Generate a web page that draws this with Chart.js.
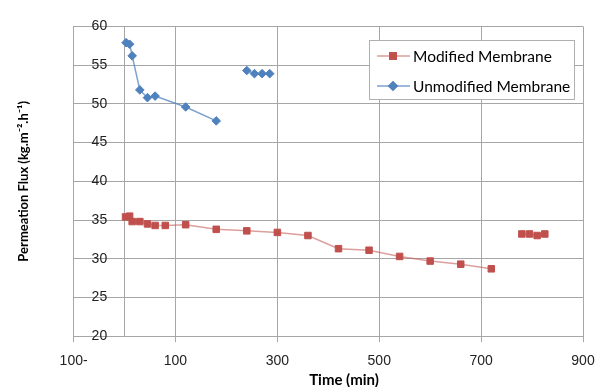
<!DOCTYPE html>
<html>
<head>
<meta charset="utf-8">
<script src="https://cdn.jsdelivr.net/npm/chart.js@4.4.1/dist/chart.umd.min.js"></script>
<style>
  html, body { margin: 0; padding: 0; background: #fff; }
  #wrap { width: 596px; height: 387px; }
</style>
</head>
<body>
<div id="wrap"><canvas id="chart" width="596" height="387"></canvas></div>
<script>
// time in minutes, flux in kg/m2/h -- null marks a break in the line
const modifiedTime = [2, 10, 15, 30, 45, 60, 80, 120, 180, 240, 300, 360, 420, 480, 540, 600, 660, 720, null, 780, 795, 810, 825];
const modifiedFlux = [35.4, 35.5, 34.8, 34.8, 34.5, 34.3, 34.3, 34.4, 33.8, 33.6, 33.4, 33.0, 31.3, 31.1, 30.3, 29.7, 29.3, 28.7, null, 33.2, 33.2, 33.0, 33.2];

const unmodifiedTime = [3, 10, 15, 30, 45, 60, 120, 180, null, 240, 255, 270, 285];
const unmodifiedFlux = [57.9, 57.7, 56.2, 51.8, 50.8, 51.0, 49.6, 47.8, null, 54.3, 53.9, 53.9, 53.9];

const xTicks = [-100, 0, 100, 300, 500, 700, 900];
const xTickLabels = ['100-', '', '100', '300', '500', '700', '900'];

const gridColor = '#a6a6a6';
const red = '#c0504d';
const blue = '#4f81bd';

function toPoints(xs, ys) {
    return xs.map((x, i) => ({ x: x, y: ys[i] }));
}

// legend box inside the plot + x title (excel puts it a bit right of centre)
const extras = {
    id: 'extras',
    afterDraw(chart) {
        const ctx = chart.ctx;
        ctx.save();
        ctx.fillStyle = '#fff';
        ctx.strokeStyle = '#b0b0b0';
        ctx.lineWidth = 1;
        ctx.fillRect(369, 40, 205, 59);
        ctx.strokeRect(369.5, 40.5, 205, 59);

        const rows = [56, 86];
        chart.data.datasets.forEach((ds, i) => {
            const y = rows[i];
            ctx.strokeStyle = ds.borderColor;
            ctx.lineWidth = 1.5;
            ctx.beginPath();
            ctx.moveTo(377, y);
            ctx.lineTo(410, y);
            ctx.stroke();
            ctx.fillStyle = ds.pointBackgroundColor;
            ctx.strokeStyle = ds.pointBorderColor;
            Chart.helpers.drawPoint(ctx, { pointStyle: ds.pointStyle, radius: ds.pointRadius, borderWidth: 1 }, 393, y);
            ctx.fillStyle = '#000';
            ctx.font = '15.5px Lato';
            ctx.textBaseline = 'middle';
            ctx.textAlign = 'left';
            ctx.fillText(ds.label, 413, y + 1);
        });

        ctx.font = 'bold 15px Lato';
        ctx.fillStyle = '#000';
        ctx.textAlign = 'center';
        ctx.textBaseline = 'middle';
        ctx.fillText('Time (min)', 344, 380);
        ctx.restore();
    }
};

new Chart(document.getElementById('chart'), {
    type: 'line',
    data: {
        datasets: [
            {
                label: 'Modified Membrane',
                data: toPoints(modifiedTime, modifiedFlux),
                borderColor: 'rgba(192,80,77,0.55)',
                borderWidth: 1.5,
                pointStyle: 'rect',
                pointRadius: 4.6,
                pointBackgroundColor: red,
                pointBorderColor: red,
                pointBorderWidth: 1,
                tension: 0
            },
            {
                label: 'Unmodified Membrane',
                data: toPoints(unmodifiedTime, unmodifiedFlux),
                borderColor: 'rgba(79,129,189,0.75)',
                borderWidth: 1.5,
                pointStyle: 'rectRot',
                pointRadius: 4.3,
                pointBackgroundColor: blue,
                pointBorderColor: blue,
                pointBorderWidth: 1,
                tension: 0
            }
        ]
    },
    options: {
        responsive: false,
        animation: false,
        layout: { padding: { top: 24, right: 13, bottom: 6, left: 0 } },
        plugins: {
            legend: { display: false },
            tooltip: { enabled: false }
        },
        scales: {
            x: {
                type: 'linear',
                min: -100,
                max: 900,
                afterBuildTicks: axis => { axis.ticks = xTicks.map(v => ({ value: v })); },
                afterFit: axis => { axis.paddingLeft = 0; axis.paddingRight = 0; },
                ticks: {
                    autoSkip: false,
                    maxRotation: 0,
                    padding: 11,
                    color: '#222',
                    font: { family: 'Liberation Sans', size: 14 },
                    callback: v => xTickLabels[xTicks.indexOf(v)]
                },
                grid: {
                    color: gridColor,
                    tickLength: 6,
                    tickColor: c => (c.tick && c.tick.value === 0) ? 'rgba(0,0,0,0)' : gridColor
                },
                border: { color: gridColor }
            },
            y: {
                min: 20,
                max: 60,
                ticks: {
                    stepSize: 5,
                    mirror: true,
                    padding: 18,
                    color: '#222',
                    font: { family: 'Liberation Sans', size: 14 }
                },
                grid: { color: gridColor, drawTicks: false },
                border: { color: gridColor },
                title: {
                    display: true,
                    text: 'Permeation Flux (kg.m\u207B\u00B2.h\u207B\u00B9)',
                    color: '#000',
                    font: { family: 'Lato', size: 13, weight: 'bold' },
                    padding: { top: 16, bottom: 6 }
                }
            }
        }
    },
    plugins: [extras]
});
</script>
</body>
</html>
